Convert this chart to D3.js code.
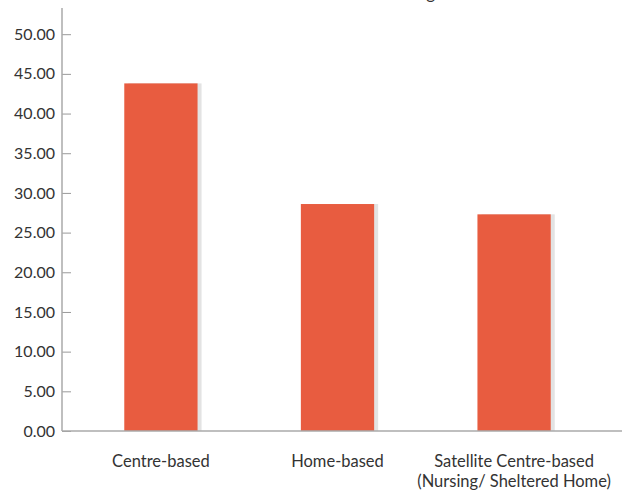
<!DOCTYPE html>
<html><head><meta charset="utf-8">
<script src="https://cdn.jsdelivr.net/npm/d3@7"></script>
<style>body{margin:0;background:#fff}svg{display:block}</style>
</head><body>
<svg id="c" width="635" height="490"></svg>
<script>
const categories = ["Centre-based", "Home-based", "Satellite Centre-based|(Nursing/ Sheltered Home)"];
const values = [43.8, 28.6, 27.3];
const yTicks = [0, 5, 10, 15, 20, 25, 30, 35, 40, 45, 50];
const titleText = "Number of Clients Attending";

const svg = d3.select("#c");
const W = 635, H = 490;
const m = {left: 62, right: 13, top: 8, bottom: 59};
const font = "Lato, 'Open Sans', sans-serif";

const y = d3.scaleLinear().domain([0, 53.3]).range([H - m.bottom, m.top]);
const x = d3.scaleBand().domain(categories).range([m.left + 4, 609]).paddingInner(0.585).paddingOuter(0.33);

// title (clipped at top)
svg.append("text").attr("x", 435).attr("y", -1).attr("text-anchor", "end")
  .attr("font-family", font).attr("font-size", 17).attr("fill", "#333").text(titleText);

// shadows
svg.append("g").selectAll("rect").data(values).join("rect")
  .attr("x", (d, i) => x(categories[i]) + 4)
  .attr("y", d => y(d))
  .attr("width", x.bandwidth())
  .attr("height", d => y(0) - y(d))
  .attr("fill", "#e3e3e3");

svg.append("g").selectAll("rect").data(values).join("rect")
  .attr("x", (d, i) => x(categories[i]))
  .attr("y", d => y(d))
  .attr("width", x.bandwidth())
  .attr("height", d => y(0) - y(d))
  .attr("fill", "#e85c40");

// y axis
const ya = svg.append("g").attr("transform", `translate(${m.left},0)`)
  .call(d3.axisRight(y).tickValues(yTicks).tickSize(9).tickFormat(d3.format(".2f")));
ya.select(".domain").remove();
ya.selectAll(".tick line").attr("stroke", "#999");
ya.selectAll(".tick text").attr("x", -7).attr("text-anchor", "end")
  .attr("font-family", font).attr("font-size", 16).attr("fill", "#333");
svg.append("line").attr("x1", m.left).attr("x2", m.left).attr("y1", m.top).attr("y2", y(0))
  .attr("stroke", "#aaa").attr("stroke-width", 1.5);

// x axis
svg.append("line").attr("x1", m.left).attr("x2", W - m.right).attr("y1", y(0)).attr("y2", y(0))
  .attr("stroke", "#aaa").attr("stroke-width", 1.5);
const xa = svg.append("g").attr("transform", `translate(0,${y(0)})`)
  .call(d3.axisBottom(x).tickSize(0).tickFormat(""));
xa.select(".domain").remove();
xa.selectAll(".tick").each(function(d) {
  const t = d3.select(this).append("text").attr("y", 36).attr("text-anchor", "middle")
    .attr("font-family", font).attr("font-size", 16.5).attr("fill", "#333");
  d.split("|").forEach((s, i) => t.append("tspan").attr("x", 0).attr("dy", i ? 20 : 0).text(s));
});
</script>
</body></html>
